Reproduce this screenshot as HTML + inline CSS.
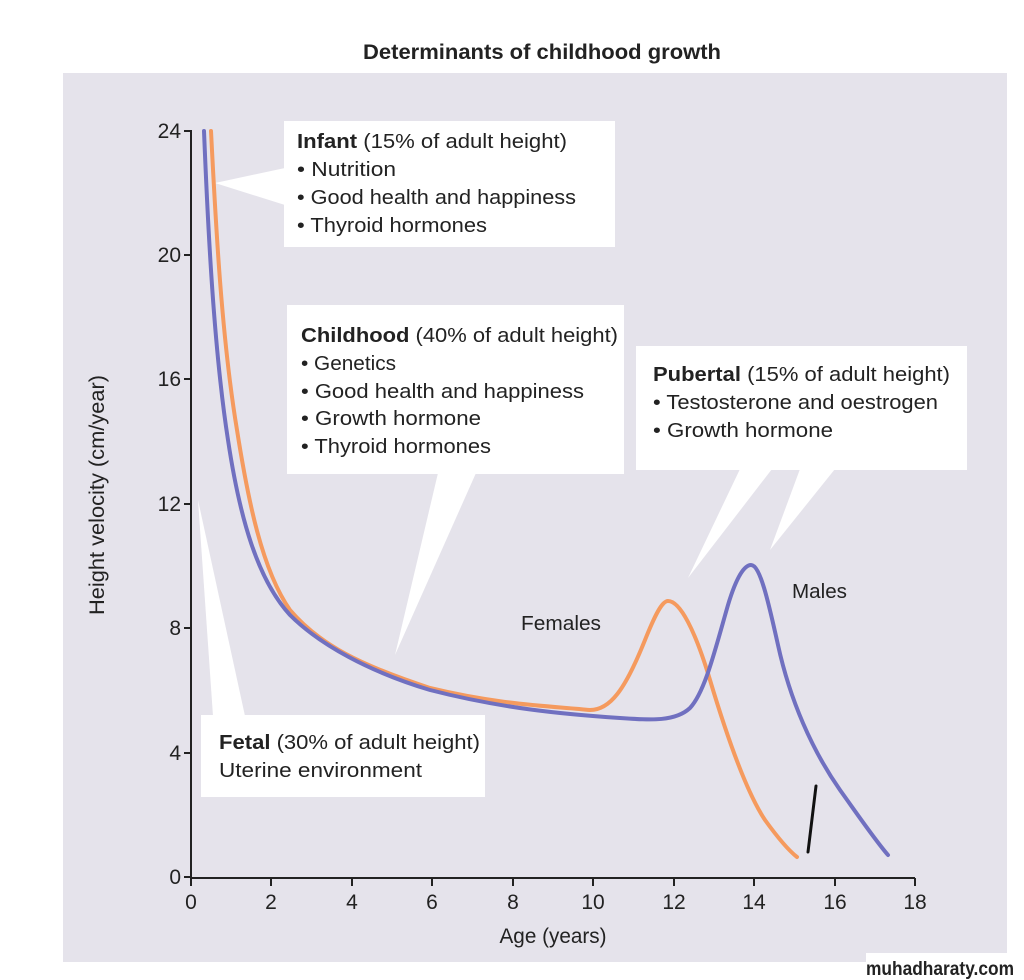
<!DOCTYPE html>
<html><head><meta charset="utf-8"><style>
html,body{margin:0;padding:0;background:#fff;}
svg{display:block;font-family:"Liberation Sans",sans-serif;}
</style></head><body>
<svg width="1024" height="980" viewBox="0 0 1024 980">
<rect width="1024" height="980" fill="#fff"/>
<text x="542" y="59" font-size="21" font-weight="bold" text-anchor="middle" fill="#222" textLength="358" lengthAdjust="spacingAndGlyphs">Determinants of childhood growth</text>
<rect x="63" y="73" width="944" height="889" fill="#e5e3eb"/>
<rect x="866" y="953" width="158" height="27" fill="#fff"/>
<text x="1014" y="975" font-size="19" font-weight="bold" text-anchor="end" fill="#222" textLength="148" lengthAdjust="spacingAndGlyphs">muhadharaty.com</text>

<g fill="#fff">
<rect x="284" y="121" width="331" height="126"/>
<polygon points="285,168 215,183 285,205"/>
<rect x="287" y="305" width="337" height="169"/>
<polygon points="438,473 395,655 476,473"/>
<rect x="636" y="346" width="331" height="124"/>
<polygon points="740,469 688,578 772,469"/>
<polygon points="800,469 770,550 835,469"/>
<rect x="201" y="715" width="284" height="82"/>
<polygon points="213,716 198,500 245,716"/>
</g>

<g stroke="#222" stroke-width="2" fill="none">
<line x1="191" y1="130" x2="191" y2="878"/>
<line x1="191" y1="878" x2="915" y2="878"/>
<line x1="184" y1="131" x2="191" y2="131"/>
<line x1="184" y1="255" x2="191" y2="255"/>
<line x1="184" y1="379" x2="191" y2="379"/>
<line x1="184" y1="504" x2="191" y2="504"/>
<line x1="184" y1="628" x2="191" y2="628"/>
<line x1="184" y1="753" x2="191" y2="753"/>
<line x1="184" y1="877" x2="191" y2="877"/>
<line x1="191" y1="878" x2="191" y2="886"/>
<line x1="271" y1="878" x2="271" y2="886"/>
<line x1="352" y1="878" x2="352" y2="886"/>
<line x1="432" y1="878" x2="432" y2="886"/>
<line x1="513" y1="878" x2="513" y2="886"/>
<line x1="593" y1="878" x2="593" y2="886"/>
<line x1="674" y1="878" x2="674" y2="886"/>
<line x1="754" y1="878" x2="754" y2="886"/>
<line x1="835" y1="878" x2="835" y2="886"/>
<line x1="915" y1="878" x2="915" y2="886"/>
</g>
<g font-size="21" fill="#222" text-anchor="end">
<text x="181" y="138">24</text><text x="181" y="262">20</text><text x="181" y="386">16</text>
<text x="181" y="511">12</text><text x="181" y="635">8</text><text x="181" y="760">4</text><text x="181" y="884">0</text>
</g>
<g font-size="21" fill="#222" text-anchor="middle">
<text x="191" y="909">0</text><text x="271" y="909">2</text><text x="352" y="909">4</text><text x="432" y="909">6</text>
<text x="513" y="909">8</text><text x="593" y="909">10</text><text x="674" y="909">12</text><text x="754" y="909">14</text>
<text x="835" y="909">16</text><text x="915" y="909">18</text>
<text x="553" y="943" textLength="107" lengthAdjust="spacingAndGlyphs">Age (years)</text>
<text transform="translate(104,495) rotate(-90)" textLength="240" lengthAdjust="spacingAndGlyphs">Height velocity (cm/year)</text>
</g>

<g fill="none" stroke-width="4" stroke-linecap="round" stroke-linejoin="round">
<path stroke="#f59a5e" d="M211,131 C216,230 222,340 237,430 C248,500 262,570 290,610 C320,645 360,665 430,688 C500,705 550,706 590,710 C610,710 625,690 645,640 C655,615 662,601 668,601 C680,601 695,630 710,680 C725,730 745,790 765,820 C778,838 788,850 797,857"/>
<path stroke="#7070c0" d="M204,131 C208,230 214,350 228,440 C240,520 258,580 290,615 C320,645 370,672 430,690 C500,708 560,714 620,718 C650,720 675,722 690,708 C705,692 715,650 728,605 C737,575 745,565 751,565 C760,565 768,600 778,645 C790,700 812,750 840,790 C860,818 875,840 888,855"/>
<line x1="808" y1="852" x2="816" y2="786" stroke="#111" stroke-width="3"/>
</g>
<g font-size="20" fill="#222">
<text x="521" y="630" textLength="80" lengthAdjust="spacingAndGlyphs">Females</text>
<text x="792" y="598" textLength="55" lengthAdjust="spacingAndGlyphs">Males</text>
</g>

<g font-size="20" fill="#222">
<text x="297" y="148" textLength="270" lengthAdjust="spacingAndGlyphs"><tspan font-weight="bold">Infant</tspan> (15% of adult height)</text>
<text x="297" y="176" textLength="99" lengthAdjust="spacingAndGlyphs">• Nutrition</text>
<text x="297" y="204" textLength="279" lengthAdjust="spacingAndGlyphs">• Good health and happiness</text>
<text x="297" y="232" textLength="190" lengthAdjust="spacingAndGlyphs">• Thyroid hormones</text>

<text x="301" y="342" textLength="317" lengthAdjust="spacingAndGlyphs"><tspan font-weight="bold">Childhood</tspan> (40% of adult height)</text>
<text x="301" y="370" textLength="95" lengthAdjust="spacingAndGlyphs">• Genetics</text>
<text x="301" y="398" textLength="283" lengthAdjust="spacingAndGlyphs">• Good health and  happiness</text>
<text x="301" y="425" textLength="180" lengthAdjust="spacingAndGlyphs">• Growth hormone</text>
<text x="301" y="453" textLength="190" lengthAdjust="spacingAndGlyphs">• Thyroid hormones</text>

<text x="653" y="381" textLength="297" lengthAdjust="spacingAndGlyphs"><tspan font-weight="bold">Pubertal</tspan> (15% of adult height)</text>
<text x="653" y="409" textLength="285" lengthAdjust="spacingAndGlyphs">• Testosterone and oestrogen</text>
<text x="653" y="437" textLength="180" lengthAdjust="spacingAndGlyphs">• Growth hormone</text>

<text x="219" y="749" textLength="261" lengthAdjust="spacingAndGlyphs"><tspan font-weight="bold">Fetal</tspan> (30% of adult height)</text>
<text x="219" y="777" textLength="203" lengthAdjust="spacingAndGlyphs">Uterine environment</text>
</g>
</svg>
</body></html>
